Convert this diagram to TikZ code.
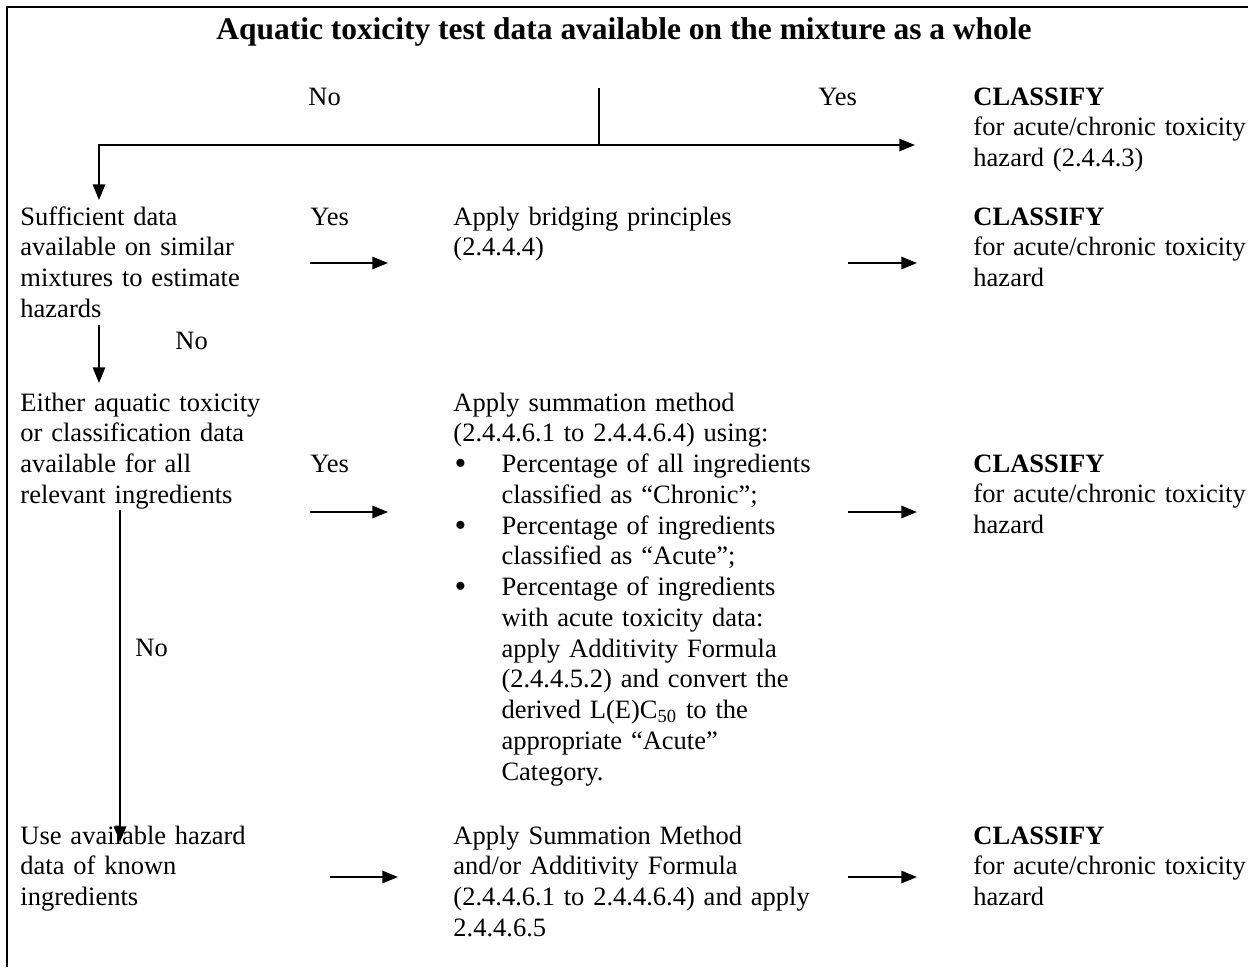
\documentclass[tikz,border=0pt]{standalone}
\usepackage{fontspec}
\setmainfont{Liberation Serif}
\usetikzlibrary{arrows.meta}
\newcommand\bul{\hspace*{0.5pt}\makebox[20.9pt][l]{\raisebox{-1pt}{\fontsize{15}{15}\selectfont\textbullet}}}
\newcommand\ind{\hspace*{21.4pt}}
\begin{document}
\begin{tikzpicture}[x=0.4452pt, y=-0.4452pt,
txt/.style={anchor=base west, align=left, text width=9cm, inner sep=0pt, font=\fontsize{11.8}{13.7}\selectfont},
flow/.style={line width=0.9pt, -{Triangle[length=7pt, width=5.5pt]}},
stem/.style={line width=0.9pt}]
\useasboundingbox (0,0) rectangle (1248,967);
\draw[stem] (7,967) -- (7,7) -- (1248,7);
\node[anchor=base, inner sep=0pt, font=\bfseries\fontsize{14}{16}\selectfont] (title) at (624,39)
    {Aquatic toxicity test data available on the mixture as a whole};
% first decision
\node[txt] (no1) at (308,105) {No};
\node[txt] (yes1) at (818,105) {Yes};
\node[txt] (cls1) at (973,105) {\textbf{CLASSIFY}\\for acute/chronic toxicity\\hazard (2.4.4.3)};
\coordinate (top) at (599,88);
\coordinate (split) at (599,145);
\coordinate (toq1) at (99,200);
\coordinate (tocls1) at (915,145);
\draw[stem] (top) -- (split);
\draw[flow] (split) -- (tocls1);
\draw[flow] (split) -| (toq1);
% similar mixtures
\node[txt] (q1) at (20,225) {Sufficient data\\available on similar\\mixtures to estimate\\hazards};
\node[txt] (yes2) at (310,225) {Yes};
\node[txt] (bridge) at (453,225) {Apply bridging principles\\(2.4.4.4)};
\node[txt] (cls2) at (973,225) {\textbf{CLASSIFY}\\for acute/chronic toxicity\\hazard};
\coordinate (a2) at (310,263);
\coordinate (b2) at (388,263);
\coordinate (c2) at (848,263);
\coordinate (d2) at (917,263);
\draw[flow] (a2) -- (b2);
\draw[flow] (c2) -- (d2);
\coordinate (n2a) at (99,325);
\coordinate (n2b) at (99,383);
\draw[flow] (n2a) -- (n2b);
\node[txt] (no2) at (175,349) {No};
% all ingredients
\node[txt] (q2) at (20,411) {Either aquatic toxicity\\or classification data\\available for all\\relevant ingredients};
\node[txt] (yes3) at (310,472) {Yes};
\node[txt] (summ) at (453,411) {Apply summation method\\
    (2.4.4.6.1 to 2.4.4.6.4) using:\\
    \bul Percentage of all ingredients\\
    \ind classified as “Chronic”;\\
    \bul Percentage of ingredients\\
    \ind classified as “Acute”;\\
    \bul Percentage of ingredients\\
    \ind with acute toxicity data:\\
    \ind apply Additivity Formula\\
    \ind (2.4.4.5.2) and convert the\\
    \ind derived L(E)C\textsubscript{50} to the\\
    \ind appropriate “Acute”\\
    \ind Category.};
\node[txt] (cls3) at (973,472) {\textbf{CLASSIFY}\\for acute/chronic toxicity\\hazard};
\coordinate (a3) at (310,512);
\coordinate (b3) at (388,512);
\coordinate (c3) at (848,512);
\coordinate (d3) at (917,512);
\draw[flow] (a3) -- (b3);
\draw[flow] (c3) -- (d3);
\coordinate (n3a) at (120,510);
\coordinate (n3b) at (120,842);
\draw[flow] (n3a) -- (n3b);
\node[txt] (no3) at (135,656) {No};
% known ingredients
\node[txt] (q3) at (20,844) {Use available hazard\\data of known\\ingredients};
\node[txt] (summ2) at (453,844) {Apply Summation Method\\and/or Additivity Formula\\(2.4.4.6.1 to 2.4.4.6.4) and apply\\2.4.4.6.5};
\node[txt] (cls4) at (973,844) {\textbf{CLASSIFY}\\for acute/chronic toxicity\\hazard};
\coordinate (a4) at (330,877);
\coordinate (b4) at (398,877);
\coordinate (c4) at (848,877);
\coordinate (d4) at (917,877);
\draw[flow] (a4) -- (b4);
\draw[flow] (c4) -- (d4);
\end{tikzpicture}
\end{document}
